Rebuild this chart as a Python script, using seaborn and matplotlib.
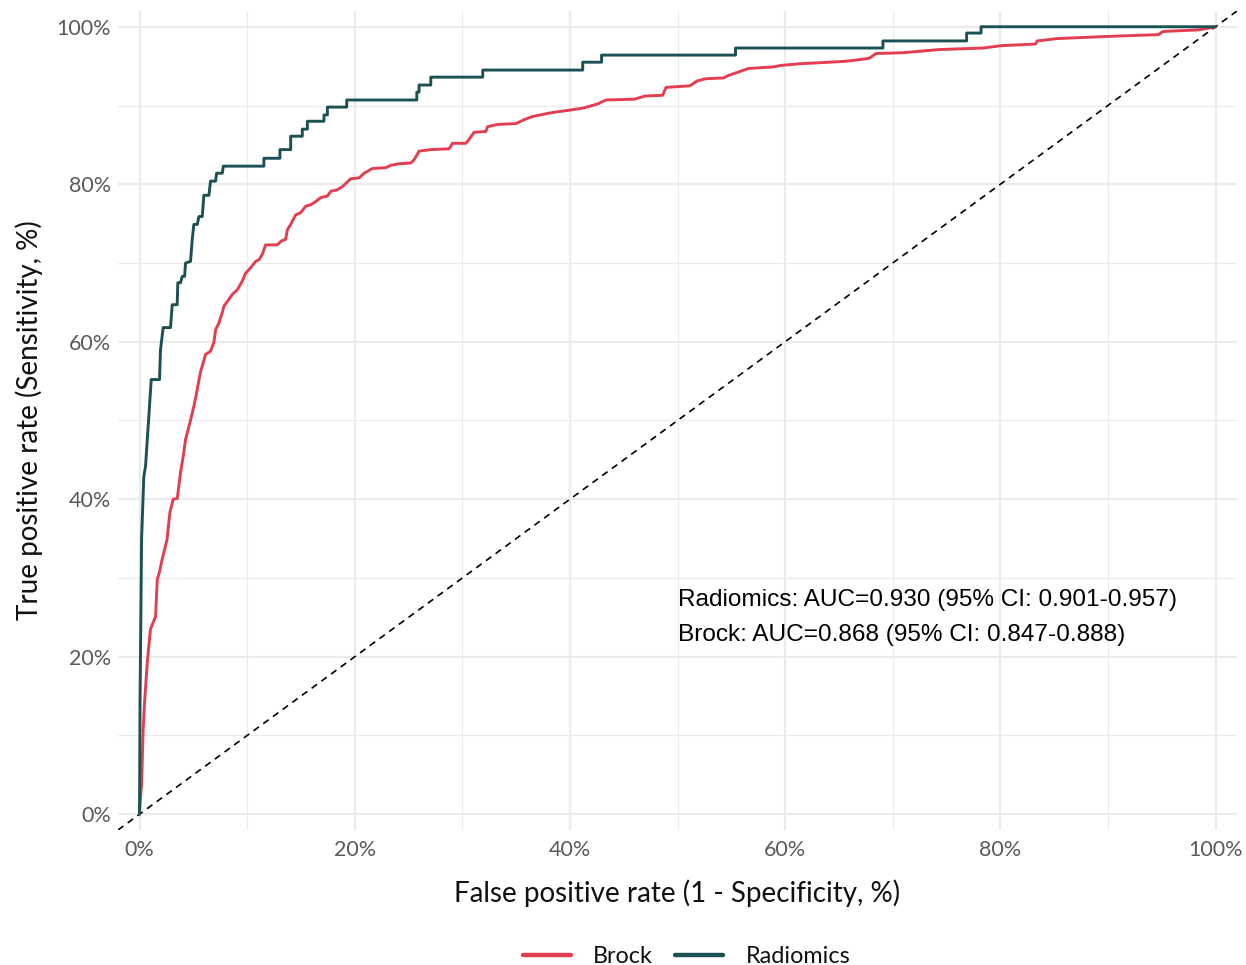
import numpy as np
import pandas as pd
import matplotlib
matplotlib.use("Agg")
import matplotlib.pyplot as plt
import seaborn as sns
from matplotlib.ticker import FuncFormatter, MultipleLocator

# ROC path vertices (percent)
radiomics_fpr = [0, 0.05, 0.14, 0.19, 0.40, 0.56, 1.09, 1.86, 1.95, 2.20, 2.88, 3.04, 3.50,
                 3.56, 3.81, 3.97, 4.19, 4.28, 4.74, 4.90, 5.05, 5.37, 5.52, 5.83, 5.98,
                 6.45, 6.60, 7.07, 7.16, 7.69, 7.79, 11.56, 11.56, 13.05, 13.05, 14.05,
                 14.05, 15.13, 15.13, 15.60, 15.60, 17.14, 17.14, 17.46, 17.46, 19.26,
                 19.26, 25.77, 25.77, 25.98, 25.98, 27.07, 27.07, 31.90, 31.90, 41.19,
                 41.19, 42.94, 42.94, 55.39, 55.39, 69.09, 69.09, 76.87, 76.87, 78.21,
                 78.21, 100]
radiomics_tpr = [0, 14.6, 27.3, 34.9, 42.9, 44.2, 55.2, 55.2, 59.0, 61.8, 61.8, 64.7, 64.7,
                 67.5, 67.5, 68.3, 68.3, 70.0, 70.2, 73.0, 74.9, 74.9, 75.9, 75.9, 78.6,
                 78.6, 80.4, 80.4, 81.4, 81.4, 82.3, 82.3, 83.3, 83.3, 84.4, 84.4,
                 86.1, 86.1, 87.0, 87.0, 88.0, 88.0, 88.8, 88.8, 89.8, 89.8,
                 90.7, 90.7, 91.7, 91.7, 92.6, 92.6, 93.6, 93.6, 94.5, 94.5,
                 95.5, 95.5, 96.4, 96.4, 97.3, 97.3, 98.2, 98.2, 99.2, 99.2,
                 100, 100]

brock_fpr = [0, 0.05, 0.19, 0.25, 0.34, 0.47, 0.72, 1.02, 1.49, 1.65, 1.86, 2.11, 2.56,
             2.82, 3.13, 3.51, 3.81, 4.07, 4.28, 4.68, 5.05, 5.30, 5.67, 5.83, 6.14,
             6.60, 6.91, 7.07, 7.38, 7.69, 7.84, 8.31, 8.62, 9.09, 9.55, 9.86, 10.33,
             10.79, 11.10, 11.41, 11.72, 12.81, 13.18, 13.58, 13.74, 14.05, 14.51,
             14.98, 15.44, 15.91, 16.37, 16.84, 17.46, 17.77, 18.39, 18.86, 19.32,
             19.63, 20.40, 20.87, 21.65, 22.88, 23.35, 24.12, 25.21, 25.52, 25.98,
             27.07, 28.77, 29.09, 30.33, 30.63, 31.10, 32.19, 32.34, 33.30, 34.98,
             35.75, 36.53, 37.93, 38.86, 39.93, 41.33, 42.58, 43.35, 45.98, 46.98,
             48.62, 48.93, 51.16, 51.79, 52.62, 54.29, 54.70, 56.60, 58.87, 59.70,
             61.37, 65.49, 66.79, 67.81, 68.45, 70.95, 74.28, 78.42, 80.09, 83.26,
             83.44, 85.30, 90.51, 94.70, 95.11, 98.42, 99.26, 100]
brock_tpr = [0, 1.3, 3.8, 6.6, 10.8, 14.2, 19.3, 23.5, 25.1, 29.8, 30.8, 32.4, 34.9,
             38.3, 40.0, 40.1, 43.4, 45.5, 47.6, 49.7, 51.8, 53.5, 56.2, 56.9, 58.4,
             58.8, 59.9, 61.5, 62.4, 63.7, 64.5, 65.4, 66.0, 66.6, 67.7, 68.7, 69.4,
             70.2, 70.4, 71.1, 72.3, 72.3, 72.8, 73.0, 74.2, 74.9, 76.1,
             76.4, 77.2, 77.4, 77.8, 78.3, 78.5, 79.1, 79.3, 79.7, 80.3,
             80.7, 80.8, 81.4, 82.0, 82.1, 82.4, 82.6, 82.7, 83.1, 84.2,
             84.4, 84.5, 85.2, 85.2, 85.7, 86.6, 86.7, 87.3, 87.6, 87.7,
             88.2, 88.6, 89.0, 89.2, 89.4, 89.7, 90.2, 90.7, 90.8, 91.2,
             91.3, 92.3, 92.5, 93.1, 93.4, 93.5, 93.8, 94.7, 94.9, 95.1,
             95.3, 95.6, 95.8, 96.0, 96.6, 96.7, 97.1, 97.3, 97.6, 97.8,
             98.2, 98.5, 98.8, 99.0, 99.4, 99.6, 99.8, 100]

models = ["Brock", "Radiomics"]
colors = {"Brock": "#E33E50", "Radiomics": "#1C5153"}
auc_labels = ["Radiomics: AUC=0.930 (95% CI: 0.901-0.957)",
              "Brock: AUC=0.868 (95% CI: 0.847-0.888)"]

roc = pd.concat([
    pd.DataFrame({"fpr": brock_fpr, "tpr": brock_tpr, "model": "Brock"}),
    pd.DataFrame({"fpr": radiomics_fpr, "tpr": radiomics_tpr, "model": "Radiomics"}),
], ignore_index=True)

sns.set_theme(style="white")
plt.rcParams["font.family"] = ["Lato", "DejaVu Sans"]

fig = plt.figure(figsize=(12.46, 9.65), dpi=100)
ax = fig.add_axes([0.0947, 0.1399, 0.8981, 0.8487])

# grid, ggplot minimal style
ax.xaxis.set_major_locator(MultipleLocator(20))
ax.yaxis.set_major_locator(MultipleLocator(20))
ax.xaxis.set_minor_locator(MultipleLocator(10))
ax.yaxis.set_minor_locator(MultipleLocator(10))
ax.grid(which="major", color="#EBEBEB", lw=1.6)
ax.grid(which="minor", color="#EBEBEB", lw=0.8)
ax.set_axisbelow(True)

ax.plot([-2, 102], [-2, 102], ls=(0, (4, 3.2)), color="black", lw=1.2)

sns.lineplot(data=roc, x="fpr", y="tpr", hue="model", hue_order=models,
             palette=colors, sort=False, estimator=None, lw=2.1, ax=ax, legend=False)

ax.set_xlim(-2, 102)
ax.set_ylim(-2, 102)
pct = FuncFormatter(lambda v, p: f"{v:.0f}%")
ax.xaxis.set_major_formatter(pct)
ax.yaxis.set_major_formatter(pct)
ax.tick_params(which="both", length=0, labelsize=15.5, labelcolor="#5A5A5A")
ax.tick_params(axis="x", pad=7)
ax.tick_params(axis="y", pad=5)
for s in ax.spines.values():
    s.set_visible(False)

ax.set_xlabel("False positive rate (1 - Specificity, %)", fontsize=20, labelpad=14,
              color="#111111")
ax.set_ylabel("True positive rate (Sensitivity, %)", fontsize=20, labelpad=10,
              color="#111111")

ax.text(50, 27.2, auc_labels[0], fontsize=17.6, family="Liberation Sans", va="center",
        color="black")
ax.text(50, 22.8, auc_labels[1], fontsize=17.6, family="Liberation Sans", va="center",
        color="black")

handles = [plt.Line2D([], [], color=colors[m], lw=3.2) for m in models]
leg = fig.legend(handles, models, loc="center", bbox_to_anchor=(0.551, 0.0085), ncol=2,
                 frameon=False, fontsize=16.8, handlelength=2.06, columnspacing=0.95,
                 handletextpad=0.95)
for t in leg.get_texts():
    t.set_color("#111111")

fig.savefig("out.png", dpi=100)
